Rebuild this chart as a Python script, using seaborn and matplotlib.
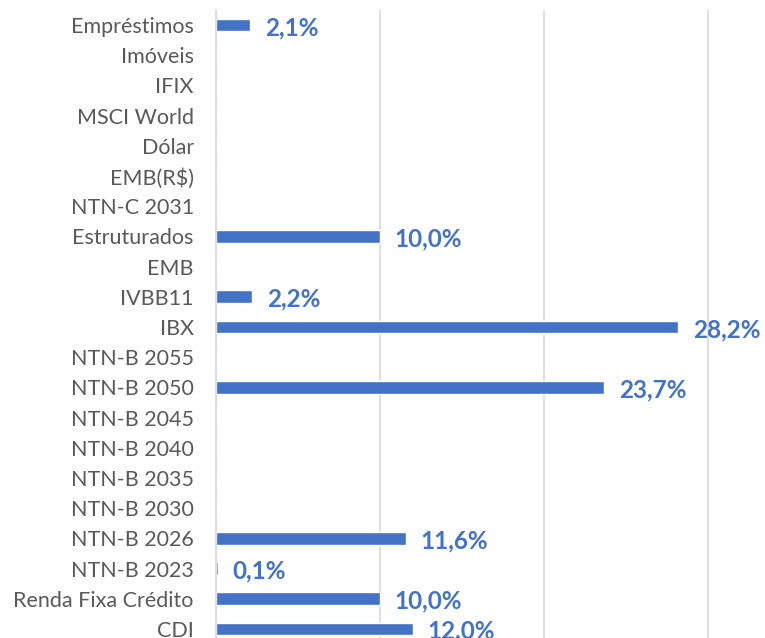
import pandas as pd
import matplotlib
matplotlib.use("Agg")
import matplotlib.pyplot as plt
import seaborn as sns

# categories, top to bottom
categorias = ["Empréstimos", "Imóveis", "IFIX", "MSCI World", "Dólar", "EMB(R$)",
              "NTN-C 2031", "Estruturados", "EMB", "IVBB11", "IBX", "NTN-B 2055",
              "NTN-B 2050", "NTN-B 2045", "NTN-B 2040", "NTN-B 2035", "NTN-B 2030",
              "NTN-B 2026", "NTN-B 2023", "Renda Fixa Crédito", "CDI"]
# allocation in %
alocacao = [2.1, 0, 0, 0, 0, 0, 0, 10.0, 0, 2.2, 28.2, 0, 23.7, 0, 0, 0, 0,
            11.6, 0.1, 10.0, 12.0]

df = pd.DataFrame({"ativo": categorias, "pct": alocacao})

sns.set_style("white")
plt.rcParams["font.family"] = ["Lato", "DejaVu Sans"]

blue = "#4472C4"
fig = plt.figure(figsize=(7.65, 6.38), dpi=100)
ax = fig.add_axes([216 / 765, 0, 1 - 216 / 765, 628 / 638])

sns.barplot(data=df, y="ativo", x="pct", orient="h", color=blue,
            width=0.42, saturation=1, ax=ax)

ax.set_xlim(0, 33.5)
ax.set_ylim(20.3, -0.5)
ax.set_xticks([0, 10, 20, 30])
ax.set_xticklabels([])
ax.xaxis.grid(True, color="#d9d9d9", linewidth=1.2)
ax.set_axisbelow(True)
ax.set_xlabel("")
ax.set_ylabel("")
for s in ["top", "right", "bottom"]:
    ax.spines[s].set_visible(False)
ax.spines["left"].set_color("#d9d9d9")
ax.spines["left"].set_linewidth(1.2)
ax.tick_params(axis="y", length=0, pad=16, labelsize=15.5, labelcolor="#595959")
ax.tick_params(axis="x", length=0)

# data labels only for non-zero values
for i, v in enumerate(alocacao):
    if v > 0:
        ax.text(v + 0.9, i + 0.08, f"{v:.1f}%".replace(".", ","), va="center", ha="left",
                color=blue, fontsize=17.5, fontweight="bold", clip_on=False)

fig.savefig("out.png", dpi=100)
